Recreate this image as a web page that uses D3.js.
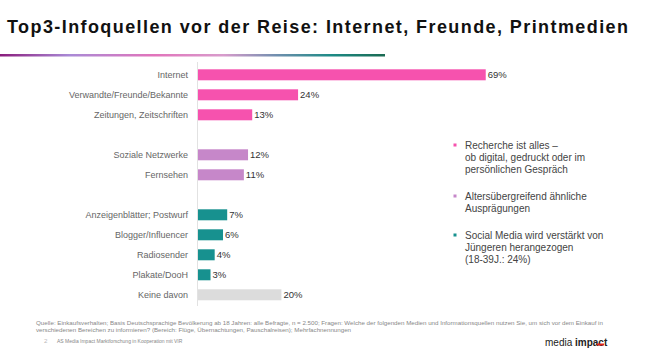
<!DOCTYPE html>
<html>
<head>
<meta charset="utf-8">
<script src="https://cdn.jsdelivr.net/npm/d3@7"></script>
<style>
  body { margin: 0; background: #fff; }
  svg { display: block; font-family: "Liberation Sans", Arial, sans-serif; }
</style>
</head>
<body>
<svg width="647" height="350"></svg>
<script>
// data
var categories = ["Internet", "Verwandte/Freunde/Bekannte", "Zeitungen, Zeitschriften",
  "Soziale Netzwerke", "Fernsehen",
  "Anzeigenblätter; Postwurf", "Blogger/Influencer", "Radiosender", "Plakate/DooH", "Keine davon"];
var values = [69, 24, 13, 12, 11, 7, 6, 4, 3, 20];
var groups = ["print", "print", "print", "tv", "tv", "other", "other", "other", "other", "none"];
var groupColors = { print: "#f652ae", tv: "#c687c9", other: "#17918f", none: "#dcdcdc" };

var bullets = [
  { color: "#f652ae", lines: ["Recherche ist alles –", "ob digital, gedruckt oder im", "persönlichen Gespräch"] },
  { color: "#c687c9", lines: ["Altersübergreifend ähnliche", "Ausprägungen"] },
  { color: "#17918f", lines: ["Social Media wird verstärkt von", "Jüngeren herangezogen", "(18-39J.: 24%)"] }
];

var svg = d3.select("svg");

// title
svg.append("text")
  .attr("x", 7).attr("y", 33)
  .attr("font-size", 18).attr("font-weight", "bold")
  .attr("textLength", 621).attr("lengthAdjust", "spacing")
  .attr("fill", "#111")
  .text("Top3-Infoquellen vor der Reise: Internet, Freunde, Printmedien");

// gradient rule under the title
var grad = svg.append("defs").append("linearGradient").attr("id", "rule");
[["0%", "#8a1c7c"], ["18%", "#a98ad6"], ["40%", "#e274bb"], ["58%", "#d89ccc"],
 ["72%", "#6f8fae"], ["86%", "#1d8b86"], ["100%", "#1b6a52"]].forEach(function (s) {
  grad.append("stop").attr("offset", s[0]).attr("stop-color", s[1]);
});
svg.append("rect").attr("x", 0).attr("y", 54).attr("width", 385).attr("height", 2.5)
  .attr("fill", "url(#rule)");

// slots: insert a blank row whenever the group changes
var slots = [];
categories.forEach(function (c, i) {
  if (i > 0 && groups[i] !== groups[i - 1] && groups[i] !== "none") slots.push("gap" + i);
  slots.push(c);
});

var x0 = 198;
var xScale = d3.scaleLinear().domain([0, 100]).range([0, 417]);
var yScale = d3.scaleBand().domain(slots).range([64.8, 304.8])
  .paddingInner(0.45).paddingOuter(0.225);

// axis line
svg.append("line")
  .attr("x1", x0 - 0.5).attr("x2", x0 - 0.5)
  .attr("y1", 62).attr("y2", 306)
  .attr("stroke", "#e2e2e2").attr("stroke-width", 1);

var rows = svg.append("g").selectAll("g")
  .data(categories)
  .enter().append("g");

rows.append("rect")
  .attr("x", x0)
  .attr("y", function (d) { return yScale(d); })
  .attr("width", function (d, i) { return xScale(values[i]); })
  .attr("height", yScale.bandwidth())
  .attr("fill", function (d, i) { return groupColors[groups[i]]; });

rows.append("text")
  .attr("x", 188)
  .attr("y", function (d) { return yScale(d) + yScale.bandwidth() / 2; })
  .attr("dy", "0.35em")
  .attr("text-anchor", "end")
  .attr("font-size", 9)
  .attr("fill", "#666")
  .text(function (d) { return d; });

rows.append("text")
  .attr("x", function (d, i) { return x0 + xScale(values[i]) + 2; })
  .attr("y", function (d) { return yScale(d) + yScale.bandwidth() / 2; })
  .attr("dy", "0.35em")
  .attr("font-size", 9.5)
  .attr("fill", "#333")
  .text(function (d, i) { return values[i] + "%"; });

// bullet notes on the right
var by = [145, 196, 235];
bullets.forEach(function (b, i) {
  svg.append("rect").attr("x", 453.5).attr("y", by[i] - 1.5).attr("width", 3).attr("height", 3)
    .attr("fill", b.color);
  b.lines.forEach(function (l, j) {
    svg.append("text")
      .attr("x", 465).attr("y", by[i] + j * 12.2).attr("dy", "0.35em")
      .attr("font-size", 10).attr("fill", "#444")
      .text(l);
  });
});

// footer
var foot = svg.append("g").attr("font-size", 6.2).attr("fill", "#888");
foot.append("text").attr("x", 36).attr("y", 325)
  .text("Quelle: Einkaufsverhalten; Basis Deutschsprachige Bevölkerung ab 18 Jahren: alle Befragte, n = 2.500; Fragen: Welche der folgenden Medien und Informationsquellen nutzen Sie, um sich vor dem Einkauf in");
foot.append("text").attr("x", 36).attr("y", 332)
  .text("verschiedenen Bereichen zu informieren? (Bereich: Flüge, Übernachtungen, Pauschalreisen); Mehrfachnennungen");
foot.append("text").attr("x", 44).attr("y", 343).attr("fill", "#bbb").text("2");
foot.append("text").attr("x", 57).attr("y", 343).attr("font-size", 5)
  .text("AS Media Impact Marktforschung in Kooperation mit VIR");

// logo
var logo = svg.append("text").attr("x", 545).attr("y", 346).attr("font-size", 10).attr("fill", "#222");
logo.append("tspan").text("media ");
logo.append("tspan").attr("font-weight", "bold").text("impact");
svg.append("rect").attr("x", 597).attr("y", 343.5).attr("width", 7).attr("height", 2).attr("fill", "#e2231a");
</script>
</body>
</html>
